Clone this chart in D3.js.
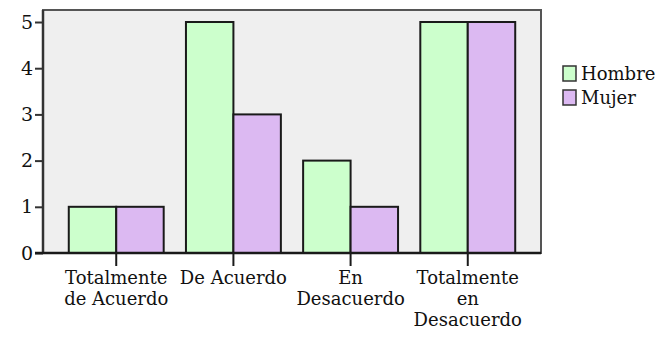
<!DOCTYPE html>
<html><head><meta charset="utf-8">
<script src="https://cdn.jsdelivr.net/npm/d3@7"></script>
<style>body{margin:0;background:#fff}svg{display:block}</style>
</head><body>
<script>
const categories = [["Totalmente","de Acuerdo"],["De Acuerdo"],["En","Desacuerdo"],["Totalmente","en","Desacuerdo"]];
const series = ["Hombre","Mujer"];
const hombre = [1,5,2,5];
const mujer = [1,3,1,5];
const yTicks = [0,1,2,3,4,5];
const colors = ["#ccffcc","#dcb9f2"];

const W=666,H=338;
const svg=d3.select("body").append("svg").attr("width",W).attr("height",H);
const L=43,R=541,T=10,B=253;
const x=d3.scaleBand().domain(d3.range(categories.length)).range([L,R]).paddingInner(0.19).paddingOuter(0.22);
const xs=d3.scaleBand().domain(series).range([0,x.bandwidth()]);
const y=d3.scaleLinear().domain([0,5.26]).range([B,T]);
const font="DejaVu Serif";

svg.append("rect").attr("x",L).attr("y",T).attr("width",R-L).attr("height",B-T).attr("fill","#efefef").attr("stroke","#555").attr("stroke-width",2);

const data=categories.map((c,i)=>({i,vals:[hombre[i],mujer[i]]}));
const g=svg.append("g");
data.forEach(d=>{
  d.vals.forEach((v,j)=>{
    g.append("rect").attr("x",x(d.i)+xs(series[j])).attr("y",y(v)).attr("width",xs.bandwidth()).attr("height",y(0)-y(v))
     .attr("fill",colors[j]).attr("stroke","#1a1a1a").attr("stroke-width",2);
  });
});

// y axis
const ya=svg.append("g").attr("transform",`translate(${L},0)`).call(d3.axisLeft(y).tickValues(yTicks).tickSize(8).tickFormat(d3.format("d")));
ya.select(".domain").attr("d",`M0,${T}V${B}`).attr("stroke","#333").attr("stroke-width",2.5);
ya.selectAll(".tick line").attr("stroke","#333").attr("stroke-width",2);
ya.selectAll(".tick text").attr("font-family",font).attr("font-size",19).attr("fill","#111").attr("x",-10);

// x axis
const xa=svg.append("g").attr("transform",`translate(0,${B})`).call(d3.axisBottom(x).tickSize(13).tickFormat(""));
xa.select(".domain").attr("d",`M${L-8},0H${R}`).attr("stroke","#1a1a1a").attr("stroke-width",2.5);
xa.selectAll(".tick line").attr("stroke","#1a1a1a").attr("stroke-width",2);
xa.selectAll(".tick").each(function(d){
  const t=d3.select(this).append("text").attr("font-family",font).attr("font-size",18).attr("fill","#111").attr("text-anchor","middle");
  categories[d].forEach((s,k)=>t.append("tspan").attr("x",0).attr("y",31+k*21).text(s));
});

// legend
const lg=svg.append("g").attr("transform","translate(563,66)");
series.forEach((s,j)=>{
  const r=lg.append("g").attr("transform",`translate(0,${j*24})`);
  r.append("rect").attr("x",0).attr("y",0).attr("width",13).attr("height",15).attr("fill",colors[j]).attr("stroke","#333").attr("stroke-width",1.5);
  r.append("text").attr("x",18).attr("y",14).attr("font-family",font).attr("font-size",18).attr("fill","#111").text(s);
});
</script>
</body></html>
